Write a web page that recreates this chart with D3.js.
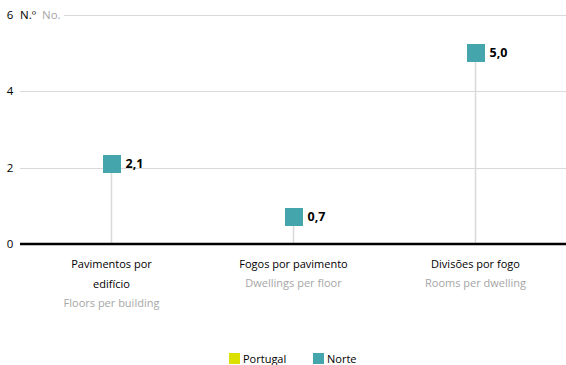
<!DOCTYPE html>
<html><head><meta charset="utf-8">
<script src="https://cdn.jsdelivr.net/npm/d3@7"></script>
<style>body{margin:0;background:#fff;} svg{display:block;font-family:"Open Sans",sans-serif;}</style>
</head><body><svg id="c" width="566" height="365"></svg>
<script>
const categoriesPT = ["Pavimentos por|edifício", "Fogos por pavimento", "Divisões por fogo"];
const categoriesEN = ["Floors per building", "Dwellings per floor", "Rooms per dwelling"];
const portugalValues = [2.1, 0.7, 5.0];
const norteValues = [2.1, 0.7, 5.0];
const yTicks = [0, 2, 4, 6];
const seriesNames = ["Portugal", "Norte"];
const seriesColors = ["#DCE000", "#45A5AD"];

const svg = d3.select("#c");
const x0 = 20, x1 = 566;
const x = d3.scaleBand().domain(d3.range(categoriesPT.length)).range([x0, x1]);
const y = d3.scaleLinear().domain([0, 6]).range([244, 15]);
const cxOf = i => Math.round(x(i) + x.bandwidth() / 2) + 0.5;

// gridlines
svg.append("g").selectAll("line").data(yTicks.filter(d => d > 0)).join("line")
  .attr("x1", d => d === 6 ? 64 : x0).attr("x2", x1)
  .attr("y1", d => Math.round(y(d)) + 0.5).attr("y2", d => Math.round(y(d)) + 0.5)
  .attr("stroke", "#d9d9d9").attr("stroke-width", 1);

// y tick labels
svg.append("g").selectAll("text").data(yTicks).join("text")
  .attr("x", 10).attr("y", d => y(d) + 4).attr("text-anchor", "middle")
  .attr("font-size", 11.5).attr("fill", "#000").text(d => d);
svg.append("text").attr("x", 20).attr("y", y(6) + 4).attr("font-size", 11.5)
  .attr("fill", "#000").text("N.º");
svg.append("text").attr("x", 42).attr("y", y(6) + 4).attr("font-size", 11.5)
  .attr("fill", "#a6a6a6").text("No.");

// stems
svg.append("g").selectAll("line").data(norteValues).join("line")
  .attr("x1", (d, i) => cxOf(i)).attr("x2", (d, i) => cxOf(i))
  .attr("y1", y(0)).attr("y2", d => y(d))
  .attr("stroke", "#d9d9d9").attr("stroke-width", 1.5);

// baseline
svg.append("line").attr("x1", x0).attr("x2", x1).attr("y1", y(0)).attr("y2", y(0))
  .attr("stroke", "#000").attr("stroke-width", 2.5);

const sz = 18;
[portugalValues, norteValues].forEach((vals, s) => {
  svg.append("g").selectAll("rect").data(vals).join("rect")
    .attr("x", (d, i) => Math.round(cxOf(i) - sz / 2))
    .attr("y", d => Math.round(y(d) - sz / 2))
    .attr("width", sz).attr("height", sz)
    .attr("fill", seriesColors[s]);
});

// value labels
svg.append("g").selectAll("text").data(norteValues).join("text")
  .attr("x", (d, i) => cxOf(i) + 14)
  .attr("y", d => y(d) + 4)
  .attr("font-size", 12.5).attr("font-weight", "bold").attr("fill", "#000")
  .text(d => d3.format(".1f")(d).replace(".", ","));

// category labels
categoriesPT.forEach((c, i) => {
  const cx = cxOf(i);
  const lines = c.split("|");
  lines.forEach((l, k) => {
    svg.append("text").attr("x", cx).attr("y", 268 + k * 20).attr("text-anchor", "middle")
      .attr("font-size", 11).attr("fill", "#000").text(l);
  });
  svg.append("text").attr("x", cx).attr("y", 268 + lines.length * 20 - 1).attr("text-anchor", "middle")
    .attr("font-size", 11).attr("fill", "#a6a6a6").text(categoriesEN[i]);
});

// legend
const legX = [229, 313];
seriesNames.forEach((n, s) => {
  svg.append("rect").attr("x", legX[s]).attr("y", 353).attr("width", 11).attr("height", 11)
    .attr("fill", seriesColors[s]);
  svg.append("text").attr("x", legX[s] + 14).attr("y", 363).attr("font-size", 11)
    .attr("fill", "#000").text(n);
});
</script></body></html>
